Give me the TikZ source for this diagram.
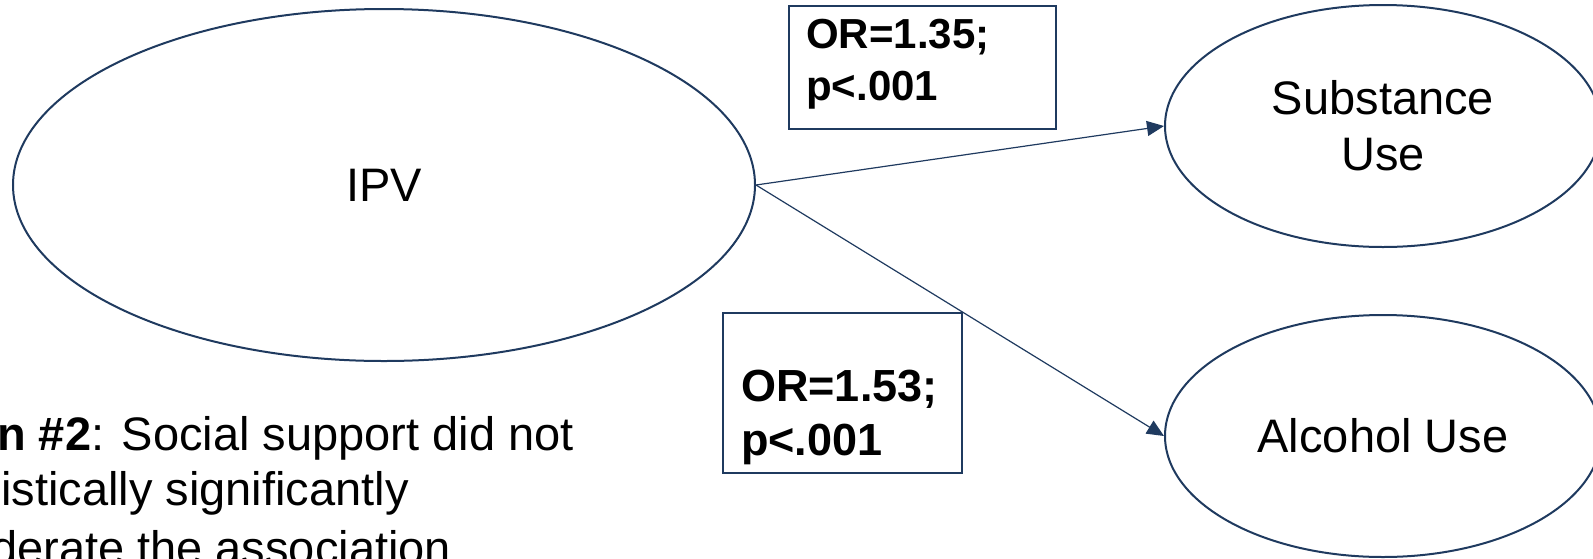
\documentclass[tikz,border=0pt]{standalone}
\usepackage{fontspec}
\setmainfont{Liberation Sans}
\usetikzlibrary{shapes.geometric,arrows.meta}
\definecolor{navy}{HTML}{1F3A5F}
\begin{document}
\begin{tikzpicture}[x=1pt,y=-1pt,
  var/.style={ellipse, draw=navy, line width=2pt, inner sep=0pt, align=center,
    font={\fontsize{47}{56}\selectfont}},
  statbox/.style={rectangle, draw=navy, line width=1.5pt, inner sep=0pt, anchor=north west},
  stattext/.style={anchor=base west, inner sep=0pt, align=left},
  link/.style={draw=navy, line width=1.2pt, -{Triangle[length=17pt,width=15pt]}},
  note/.style={anchor=base west, inner sep=0pt, font={\fontsize{47}{54}\selectfont}}]
\useasboundingbox (0,0) rectangle (1593,558);
\clip (0,0) rectangle (1593,558);

% variables
\node[var, minimum width=742pt, minimum height=352pt] (ipv) at (384,185) {IPV};
\node[var, minimum width=436pt, minimum height=242pt] (sub) at (1383,126) {Substance\\Use};
\node[var, minimum width=436pt, minimum height=242pt] (alc) at (1383,436) {Alcohol Use};

% odds ratio boxes and their texts (anchored on the baseline of the last line)
\node[statbox, minimum width=267pt, minimum height=123pt] (or1) at (788,5) {};
\node[stattext, font={\fontsize{42}{52}\selectfont\bfseries}] (or1t) at (806,100) {OR=1.35;\\p<.001};
\node[statbox, minimum width=239pt, minimum height=160pt] (or2) at (722,312) {};
\node[stattext, font={\fontsize{45}{54}\selectfont\bfseries}] (or2t) at (741,455) {OR=1.53;\\p<.001};

% paths
\draw[link] (ipv.east) -- (sub.west);
\draw[link] (ipv.east) -- (alc.west);

% note
\node[note] (n1) at (-3,450) {\textbf{n \#2}: Social support did not};
\node[note] (n2) at (1,505) {istically significantly};
\node[note] (n3) at (-9,564) {derate the association};
\end{tikzpicture}
\end{document}
